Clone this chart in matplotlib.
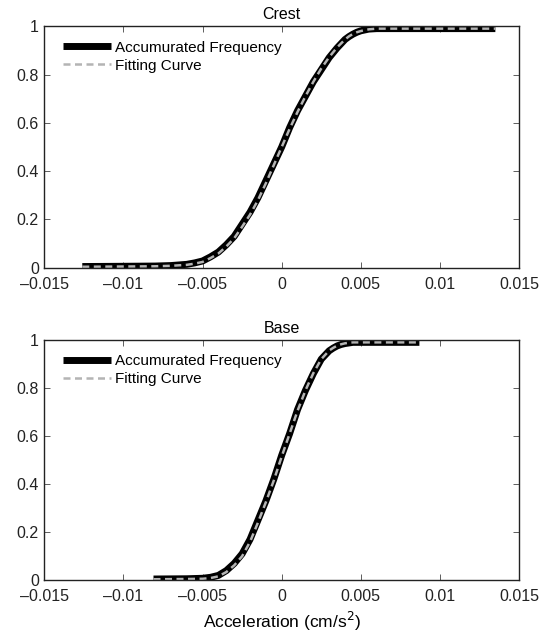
import numpy as np
import matplotlib
matplotlib.use("Agg")
import matplotlib.pyplot as plt

plt.rcParams['font.family'] = ['Liberation Sans', 'DejaVu Sans']

# Crest: accumulated frequency, x in cm/s^2
crest_x = [-0.0126, -0.010, -0.008, -0.007, -0.006, -0.0055, -0.005, -0.0045, -0.004, -0.0035,
           -0.003, -0.0025, -0.002, -0.0015, -0.001, -0.0005, 0.0, 0.0005, 0.001,
           0.0015, 0.002, 0.0025, 0.003, 0.0035, 0.004, 0.00425, 0.0045, 0.00475, 0.005,
           0.0055, 0.006, 0.008, 0.0135]
crest_freq = [0.005, 0.006, 0.007, 0.009, 0.014, 0.02, 0.028, 0.045, 0.065, 0.095,
              0.13, 0.18, 0.23, 0.29, 0.36, 0.43, 0.50, 0.58, 0.65,
              0.71, 0.77, 0.82, 0.87, 0.91, 0.945, 0.957, 0.967, 0.975, 0.981,
              0.988, 0.99, 0.99, 0.99]
crest_fit = [0.004, 0.005, 0.006, 0.008, 0.012, 0.017, 0.024, 0.04, 0.059, 0.088,
             0.122, 0.17, 0.22, 0.28, 0.35, 0.425, 0.50, 0.575, 0.645,
             0.71, 0.77, 0.825, 0.872, 0.912, 0.945, 0.958, 0.968, 0.975, 0.98,
             0.987, 0.99, 0.99, 0.99]

# Base
base_x = [-0.0081, -0.006, -0.005, -0.0045, -0.004, -0.0035, -0.003, -0.0025, -0.002,
          -0.0015, -0.001, -0.0005, 0.0, 0.0005, 0.001, 0.0015, 0.002, 0.0025,
          0.003, 0.00325, 0.0035, 0.00375, 0.004, 0.0045, 0.006, 0.0087]
base_freq = [0.005, 0.006, 0.008, 0.012, 0.02, 0.04, 0.07, 0.11, 0.17,
             0.25, 0.33, 0.42, 0.52, 0.61, 0.71, 0.79, 0.86, 0.92,
             0.955, 0.966, 0.975, 0.981, 0.985, 0.99, 0.99, 0.99]
base_fit = [0.004, 0.005, 0.006, 0.009, 0.016, 0.034, 0.062, 0.10, 0.16,
            0.24, 0.325, 0.415, 0.515, 0.61, 0.705, 0.79, 0.862, 0.92,
            0.956, 0.967, 0.976, 0.982, 0.986, 0.99, 0.99, 0.99]

xticks = [-0.015, -0.01, -0.005, 0, 0.005, 0.01, 0.015]
xtick_labels = ['\u20130.015', '\u20130.01', '\u20130.005', '0', '0.005', '0.01', '0.015']
yticks = [0, 0.2, 0.4, 0.6, 0.8, 1]
ytick_labels = ['0', '0.2', '0.4', '0.6', '0.8', '1']

fig = plt.figure(figsize=(5.47, 6.39), dpi=100)
ax1 = fig.add_axes([0.081, 0.581, 0.868, 0.378])
ax2 = fig.add_axes([0.081, 0.092, 0.868, 0.376])

panels = [(ax1, 'Crest', crest_x, crest_freq, crest_fit),
          (ax2, 'Base', base_x, base_freq, base_fit)]

for ax, titel, xs, freq, fit in panels:
    ax.plot(xs, freq, color='black', lw=5, solid_capstyle='butt', solid_joinstyle='round',
            label='Accumurated Frequency')
    ax.plot(xs, fit, color='#b4b4b4', lw=1.8, dashes=(2.8, 1.8), dash_joinstyle='round',
            label='Fitting Curve')
    ax.set_xlim(-0.015, 0.015)
    ax.set_ylim(0, 1)
    ax.set_xticks(xticks)
    ax.set_xticklabels(xtick_labels)
    ax.set_yticks(yticks)
    ax.set_yticklabels(ytick_labels)
    ax.tick_params(direction='in', top=True, right=True, labelsize=11.5, length=4,
                   width=0.6, color='#444444', labelcolor='#222222')
    ax.tick_params(axis='x', pad=6.5)
    ax.tick_params(axis='y', pad=4)
    for s in ax.spines.values():
        s.set_linewidth(1.0)
        s.set_color('#222222')
    ax.set_title(titel, fontsize=11.5, pad=5)
    ax.legend(loc='upper left', bbox_to_anchor=(0.04, 0.94), frameon=False,
              fontsize=11, handlelength=3.1, handletextpad=0.3, labelspacing=0.25,
              borderpad=0, borderaxespad=0)

ax2.set_xlabel('Acceleration (cm/s$^2$)', fontsize=12.5, labelpad=4)

fig.savefig('out.png', dpi=100)
